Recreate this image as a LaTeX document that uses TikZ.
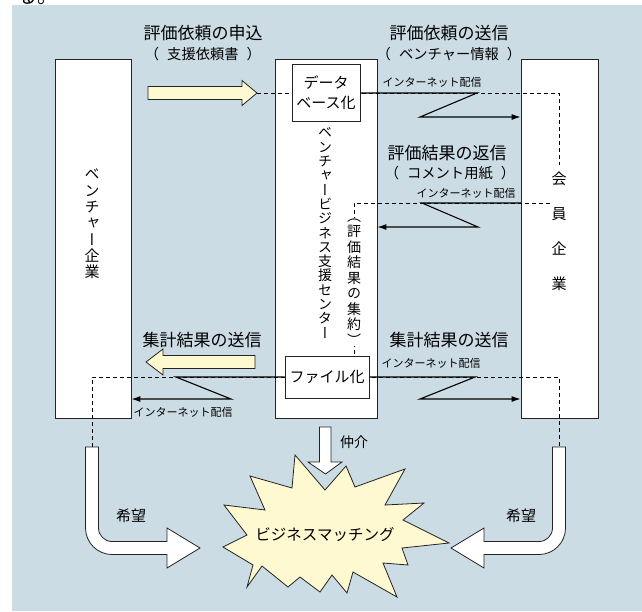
\documentclass[tikz,border=0pt]{standalone}
\usepackage{fontspec}
\setmainfont{Noto Sans CJK JP}
\newfontfamily\cjkv[RawFeature={+vert}]{Noto Sans CJK JP}
\usetikzlibrary{arrows.meta}
\definecolor{bgblue}{RGB}{204,220,228}
\definecolor{ylw}{RGB}{255,249,210}
\definecolor{edge}{RGB}{35,35,35}
\newcommand{\jfs}[1]{\fontsize{#1}{#1}\selectfont}
\newcommand{\lp}{（\hspace{8pt}}
\newcommand{\rp}{\hspace{8pt}）}
\tikzset{
  bx/.style={draw=edge, fill=white, line width=0.8pt, inner sep=0pt},
  dl/.style={draw=black, line width=0.9pt, dash pattern=on 4pt off 3pt},
  zl/.style={draw=black, line width=1.1pt, -{Latex[length=9pt,width=6pt]}},
  blk/.style={draw=edge, line width=0.8pt, line join=miter},
  lbl/.style={inner sep=0pt, font=\jfs{17}},
  sublbl/.style={inner sep=0pt, font=\jfs{14.3}},
  net/.style={inner sep=0pt, font=\jfs{11}},
  vt/.style={inner sep=0pt, align=center}
}
\begin{document}
\begin{tikzpicture}[x=1pt,y=-1pt]
\useasboundingbox (0,0) rectangle (642,611);
% background
\fill[bgblue] (12,5) rectangle (642,611);
\begin{scope}
  \clip (0,0) rectangle (642,5);
  \node[anchor=base west, inner sep=0pt, font=\jfs{20}] (cut) at (17,3.8) {る。};
\end{scope}

% main boxes
\node[bx, minimum width=76pt, minimum height=359pt] (venture) at (93,238.5) {};
\node[bx, minimum width=102pt, minimum height=359pt] (center) at (326,238.5) {};
\node[bx, minimum width=77pt, minimum height=359pt] (member) at (559.5,238.5) {};

% coordinates
\coordinate (tipA) at (257,93);
\coordinate (topR) at (559,93);
\coordinate (topEnd) at (559,165);
\coordinate (retStart) at (550,203);
\coordinate (retCorner) at (354,203);
\coordinate (lowL) at (92,377);
\coordinate (lowR) at (559,377);
\coordinate (hopeL) at (92,447);
\coordinate (hopeR) at (559,447);

% dashed lines
\draw[dl] (tipA) -- (topR) -- (topEnd);
\draw[dl] (retStart) -- (retCorner) -- (354,357);
\draw[dl] (hopeL) -- (lowL) -- (lowR) -- (hopeR);

% inner boxes
\node[bx, minimum width=68pt, minimum height=57pt, align=center, font=\jfs{15}] (db) at (326,93) {データ\\[5pt]ベース化};
\node[bx, minimum width=84pt, minimum height=42pt, font=\jfs{15}] (file) at (327,377) {ファイル化};

% vertical texts
\node[vt, font=\cjkv\fontsize{15}{16.3}\selectfont] (vlabelL) at (92,224) {ベ\\ン\\チ\\ャ\\ー\\企\\業};
\node[vt, font=\cjkv\fontsize{15}{35}\selectfont] (vlabelR) at (559,231) {会\\員\\企\\業};
\node[vt, font=\cjkv\fontsize{14}{14.3}\selectfont] (vlabelC) at (325,233) {ベ\\ン\\チ\\ャ\\ー\\ビ\\ジ\\ネ\\ス\\支\\援\\セ\\ン\\タ\\ー};
\node[vt, fill=white, inner sep=1pt, font=\cjkv\fontsize{14}{15.5}\selectfont] (vagg) at (354,282) {（\\評\\価\\結\\果\\の\\集\\約\\）};

% internet delivery zigzags
\coordinate (z1a) at (477,93);
\coordinate (z1b) at (420,117);
\draw[zl] (db.east) -- (z1a) -- (z1b) -- (z1b -| member.west);
\coordinate (z2s) at (521,203);
\coordinate (z2a) at (422,203);
\coordinate (z2b) at (478,227);
\draw[zl] (z2s) -- (z2a) -- (z2b) -- (z2b -| center.east);
\coordinate (z3a) at (176,377);
\coordinate (z3b) at (231,399);
\draw[zl] (file.west) -- (z3a) -- (z3b) -- (z3b -| venture.east);
\coordinate (z4a) at (475,377);
\coordinate (z4b) at (420,399);
\draw[zl] (file.east) -- (z4a) -- (z4b) -- (z4b -| member.west);

% yellow block arrows
\draw[blk, fill=ylw] (148,86.5) -- (242,86.5) -- (242,80.5) -- (tipA) -- (242,105.5) -- (242,99.5) -- (148,99.5) -- cycle;
\coordinate (tipB) at (146,362);
\draw[blk, fill=ylw] (255,355.5) -- (163,355.5) -- (163,349) -- (tipB) -- (163,375) -- (163,368.5) -- (255,368.5) -- cycle;

% labels
\node[lbl] (t1) at (203,33) {評価依頼の申込};
\node[sublbl] (t1s) at (203,54) {\lp 支援依頼書\rp};
\node[lbl] (t2) at (449,33) {評価依頼の送信};
\node[sublbl] (t2s) at (449,54) {\lp ベンチャー情報\rp};
\node[net] (n1) at (432,82) {インターネット配信};
\node[lbl] (t3) at (447,153) {評価結果の返信};
\node[sublbl] (t3s) at (450,173) {\lp コメント用紙\rp};
\node[net] (n2) at (466,193) {インターネット配信};
\node[lbl] (t4) at (202,340) {集計結果の送信};
\node[lbl] (t5) at (449,340) {集計結果の送信};
\node[net] (n3) at (431,363) {インターネット配信};
\node[net] (n4) at (183,412) {インターネット配信};

% starburst
\draw[blk, fill=ylw] (295,455) -- (325,490) -- (346,466) -- (355,487) -- (405,469) -- (385,505) -- (424,503) -- (403,520) -- (449,543) -- (402,548) -- (408,565) -- (383,563) -- (397,597) -- (353,572) -- (347,593) -- (332,575) -- (320,592) -- (300,577) -- (288,587) -- (262,566) -- (247,587) -- (253,565) -- (223,547) -- (247,535) -- (224,505) -- (265,510) -- (250,476) -- (292,488) -- cycle;
\node[inner sep=0pt, font=\jfs{15.5}] (match) at (325,535) {ビジネスマッチング};

% mediation arrow
\draw[blk, fill=white] (319.5,427) -- (331,427) -- (331,462) -- (342,462) -- (325.5,474) -- (308,462) -- (319.5,462) -- cycle;
\node[inner sep=0pt, font=\jfs{14}] (med) at (354,442) {仲介};

% hope arrows
\draw[blk, fill=white] (85.5,447) -- (85.5,528) .. controls (85.5,542.6) and (97.4,554.5) .. (112,554.5) -- (167,554.5) -- (167,568) -- (200,548) -- (167,528) -- (167,541.5) -- (112,541.5) .. controls (104.55,541.5) and (98.5,535.45) .. (98.5,528) -- (98.5,447) -- cycle;
\draw[blk, fill=white] (565.5,447) -- (565.5,528) .. controls (565.5,542.6) and (553.6,554.5) .. (539,554.5) -- (484,554.5) -- (484,568) -- (451,548) -- (484,528) -- (484,541.5) -- (539,541.5) .. controls (546.45,541.5) and (552.5,535.45) .. (552.5,528) -- (552.5,447) -- cycle;
\node[inner sep=0pt, font=\jfs{15}] (hopeLbl1) at (131,516) {希望};
\node[inner sep=0pt, font=\jfs{15}] (hopeLbl2) at (521,516) {希望};
\end{tikzpicture}
\end{document}
